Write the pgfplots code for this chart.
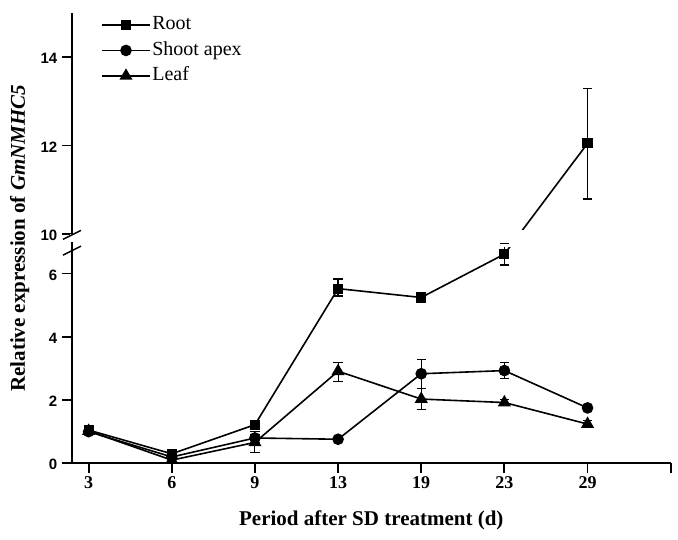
\documentclass[border=0pt]{standalone}
\usepackage{pgfplots}
\pgfplotsset{compat=1.18}
\usepackage{fontspec}
\setmainfont{Liberation Serif}
\setsansfont{Liberation Sans}
\newcommand\xtf{\fontsize{18}{20}\selectfont\bfseries}
\newcommand\ytf{\fontsize{15}{17}\selectfont\sffamily\bfseries}

\pgfplotsset{
  eb/.style={forget plot, black, line width=1pt, mark=-, mark size=4.6pt, mark options={solid, line width=1pt}},
  ebr/.style={eb, line width=1.5pt, mark options={solid, line width=1.5pt}},
}

\begin{document}
\begin{tikzpicture}
\begin{axis}[
  at={(0,0)}, anchor=south west,
  scale only axis, width=598.7pt, height=450.3pt,
  xmin=-0.2, xmax=7, ymin=0, ymax=15,
  y coord trafo/.code={\pgfmathparse{(#1>8.5)?(#1-4.811):(0.716*#1)}},
  axis x line*=bottom, axis y line*=left,
  axis line style={line width=1.8pt},
  xtick={0,1,2,3,4,5,6,7}, xticklabels={},
  ytick={0,2,4,6,10,12,14}, yticklabels={},
  tick align=outside, major tick length=9.5pt,
  every tick/.style={line width=1.8pt, black},
  clip=false,
  legend style={draw=none, fill=none, at={(axis description cs:0,1)}, anchor=north west,
    xshift=26pt, yshift=1pt, font=\fontsize{20}{20}\selectfont,
    nodes={inner sep=1.5pt, text height=14pt, text depth=4.5pt}, row sep=4pt},
  legend cell align=left,
  legend image code/.code={\draw[mark repeat=2, mark phase=2, #1] plot coordinates {(0pt,0pt) (24pt,0pt) (48pt,0pt)};},
]
% Root
\addplot[black, line width=1.6pt, mark=square*, mark size=4.3pt, mark options={solid}]
  coordinates {(0,1.05) (1,0.30) (2,1.22) (3,5.52) (4,5.24) (5,6.61) (6,12.05)};
\addlegendentry{Root}
% Shoot apex
\addplot[black, line width=1.6pt, mark=*, mark size=5pt, mark options={solid}]
  coordinates {(0,1.00) (1,0.20) (2,0.80) (3,0.76) (4,2.83) (5,2.93) (6,1.75)};
\addlegendentry{Shoot apex}
% Leaf
\addplot[black, line width=1.6pt, mark=triangle*, mark size=6pt, mark options={solid}]
  coordinates {(0,1.02) (1,0.10) (2,0.66) (3,2.91) (4,2.03) (5,1.92) (6,1.24)};
\addlegendentry{Leaf}

% error bars (lower and upper ends)
\addplot[ebr] coordinates {(0,0.96) (0,1.14)};
\addplot[ebr] coordinates {(1,0.25) (1,0.35)};
\addplot[ebr] coordinates {(2,1.15) (2,1.29)};
\addplot[ebr] coordinates {(3,5.29) (3,5.82)};
\addplot[ebr] coordinates {(4,5.17) (4,5.31)};
\addplot[ebr] coordinates {(5,6.27) (5,6.95)};
\addplot[ebr] coordinates {(6,10.79) (6,13.29)};

\addplot[eb] coordinates {(0,0.94) (0,1.06)};
\addplot[eb] coordinates {(1,0.16) (1,0.24)};
\addplot[eb] coordinates {(2,0.66) (2,1.00)};
\addplot[eb] coordinates {(3,0.72) (3,0.80)};
\addplot[eb] coordinates {(4,2.36) (4,3.28)};
\addplot[eb] coordinates {(5,2.68) (5,3.17)};
\addplot[eb] coordinates {(6,1.70) (6,1.80)};

\addplot[eb] coordinates {(0,0.93) (0,1.11)};
\addplot[eb] coordinates {(1,0.06) (1,0.14)};
\addplot[eb] coordinates {(2,0.34) (2,0.92)};
\addplot[eb] coordinates {(3,2.59) (3,3.19)};
\addplot[eb] coordinates {(4,1.69) (4,2.36)};
\addplot[eb] coordinates {(5,1.83) (5,2.02)};
\addplot[eb] coordinates {(6,1.12) (6,1.36)};

% axis break
\fill[white] ([xshift=1.5pt]axis cs:-0.2,6.85) rectangle (axis cs:7,10.08);
\fill[white] ([xshift=-2pt]axis cs:-0.2,7.0) rectangle ([xshift=2pt]axis cs:-0.2,10.0);
\draw[line width=1.5pt] ([xshift=-9pt,yshift=-4.5pt]axis cs:-0.2,9.98) -- ([xshift=9pt,yshift=4.5pt]axis cs:-0.2,9.98);
\draw[line width=1.5pt] ([xshift=-9pt,yshift=-4.5pt]axis cs:-0.2,6.72) -- ([xshift=9pt,yshift=4.5pt]axis cs:-0.2,6.72);

% tick labels
\node[font=\xtf, anchor=base, inner sep=0pt] at ([yshift=-25pt]axis cs:0,0) {3};
\node[font=\xtf, anchor=base, inner sep=0pt] at ([yshift=-25pt]axis cs:1,0) {6};
\node[font=\xtf, anchor=base, inner sep=0pt] at ([yshift=-25pt]axis cs:2,0) {9};
\node[font=\xtf, anchor=base, inner sep=0pt] at ([yshift=-25pt]axis cs:3,0) {13};
\node[font=\xtf, anchor=base, inner sep=0pt] at ([yshift=-25pt]axis cs:4,0) {19};
\node[font=\xtf, anchor=base, inner sep=0pt] at ([yshift=-25pt]axis cs:5,0) {23};
\node[font=\xtf, anchor=base, inner sep=0pt] at ([yshift=-25pt]axis cs:6,0) {29};
\node[font=\ytf, anchor=east, inner sep=0pt] at ([xshift=-14.5pt,yshift=-1.5pt]axis cs:-0.2,0) {0};
\node[font=\ytf, anchor=east, inner sep=0pt] at ([xshift=-14.5pt,yshift=-1.5pt]axis cs:-0.2,2) {2};
\node[font=\ytf, anchor=east, inner sep=0pt] at ([xshift=-14.5pt,yshift=-1.5pt]axis cs:-0.2,4) {4};
\node[font=\ytf, anchor=east, inner sep=0pt] at ([xshift=-14.5pt,yshift=-1.5pt]axis cs:-0.2,6) {6};
\node[font=\ytf, anchor=east, inner sep=0pt] at ([xshift=-14.5pt,yshift=-1.5pt]axis cs:-0.2,10) {10};
\node[font=\ytf, anchor=east, inner sep=0pt] at ([xshift=-14.5pt,yshift=-1.5pt]axis cs:-0.2,12) {12};
\node[font=\ytf, anchor=east, inner sep=0pt] at ([xshift=-14.5pt,yshift=-1.5pt]axis cs:-0.2,14) {14};
\end{axis}
\node[font=\fontsize{21}{21}\selectfont\bfseries, anchor=base] at (299.3pt,-62.7pt) {Period after SD treatment (d)};
\node[font=\fontsize{21}{21}\selectfont\bfseries, anchor=base, rotate=90] at (-47pt,225pt) {Relative expression of \textit{GmNMHC5}};
\pgfresetboundingbox
\path[use as bounding box] (-72pt,-76.7pt) rectangle (606pt,463.3pt);
\end{tikzpicture}
\end{document}
